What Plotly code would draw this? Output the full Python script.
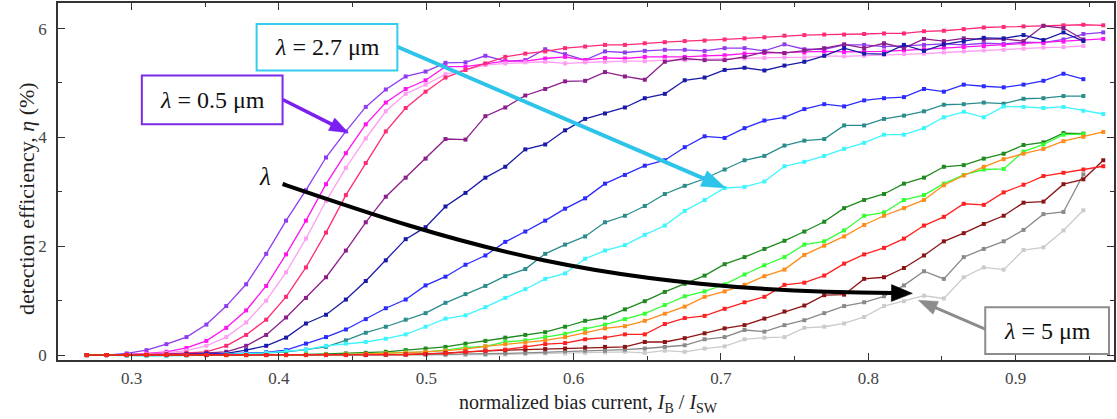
import math
import plotly.graph_objects as go

# normalized bias current I_B / I_SW (shared measurement grid)
bias = [0.2695, 0.2830, 0.2966, 0.3101, 0.3236, 0.3372, 0.3507, 0.3642, 0.3777, 0.3913,
        0.4048, 0.4183, 0.4319, 0.4454, 0.4589, 0.4725, 0.4860, 0.4995, 0.5130, 0.5266,
        0.5401, 0.5536, 0.5672, 0.5807, 0.5942, 0.6078, 0.6213, 0.6348, 0.6483, 0.6619,
        0.6754, 0.6889, 0.7025, 0.7160, 0.7295, 0.7431, 0.7566, 0.7701, 0.7836, 0.7972,
        0.8107, 0.8242, 0.8378, 0.8513, 0.8648, 0.8784, 0.8919, 0.9054, 0.9189, 0.9325,
        0.9460, 0.9595]

# detection efficiency (%) for each wavelength, from 0.5 um (violet) to 5 um (light gray)
eta_violet = [0.0, 0.0, 0.03, 0.09, 0.2, 0.33, 0.56, 0.9, 1.30, 1.86, 2.47, 3.03, 3.63, 4.11, 4.56,
              4.88, 5.12, 5.21, 5.37, 5.38, 5.5, 5.4, 5.42, 5.62, 5.53, 5.42, 5.58, 5.56, 5.59, 5.61,
              5.61, 5.59, 5.64, 5.64, 5.59, 5.71, 5.62, 5.62, 5.70, 5.70, 5.67, 5.68, 5.70, 5.72,
              5.70, 5.73, 5.72, 5.75, 5.74, 5.80, 5.90, 5.93]
eta_magenta = [0.0, 0.0, 0.01, 0.03, 0.06, 0.13, 0.26, 0.5, 0.82, 1.27, 1.85, 2.47, 3.14, 3.71, 4.24,
               4.64, 4.89, 5.05, 5.30, 5.30, 5.35, 5.4, 5.4, 5.45, 5.48, 5.42, 5.46, 5.45, 5.48, 5.48,
               5.48, 5.5, 5.51, 5.54, 5.55, 5.55, 5.56, 5.58, 5.57, 5.57, 5.58, 5.60, 5.62, 5.65,
               5.66, 5.68, 5.70, 5.72, 5.74, 5.76, 5.79, 5.81]
eta_pink = [0.0, 0.0, 0.0, 0.02, 0.04, 0.08, 0.17, 0.33, 0.6, 1.0, 1.52, 2.14, 2.83, 3.44, 3.98,
            4.48, 4.8, 4.97, 5.16, 5.24, 5.33, 5.36, 5.38, 5.39, 5.36, 5.38, 5.39, 5.40, 5.40, 5.42,
            5.42, 5.44, 5.45, 5.45, 5.46, 5.47, 5.47, 5.50, 5.49, 5.50, 5.52, 5.53, 5.54, 5.56,
            5.58, 5.60, 5.61, 5.63, 5.65, 5.66, 5.68]
eta_crimson = [0.0, 0.0, 0.0, 0.01, 0.02, 0.04, 0.06, 0.17, 0.37, 0.65, 1.07, 1.61, 2.25, 2.94, 3.53,
               4.11, 4.54, 4.84, 5.1, 5.24, 5.36, 5.48, 5.54, 5.58, 5.64, 5.67, 5.7, 5.7, 5.73, 5.75,
               5.77, 5.78, 5.8, 5.82, 5.84, 5.87, 5.88, 5.89, 5.89, 5.9, 5.91, 5.91, 5.95, 5.96,
               5.99, 6.02, 6.03, 6.04, 6.05, 6.06, 6.07, 6.06]
eta_purple = [0.0, 0.0, 0.0, 0.0, 0.01, 0.02, 0.04, 0.06, 0.17, 0.37, 0.69, 1.05, 1.43, 1.92, 2.44,
              2.91, 3.26, 3.61, 3.97, 3.96, 4.39, 4.55, 4.77, 4.89, 5.03, 5.04, 5.2, 5.12, 5.06, 5.39,
              5.45, 5.42, 5.42, 5.48, 5.57, 5.55, 5.6, 5.64, 5.71, 5.64, 5.73, 5.64, 5.81, 5.77,
              5.82, 5.8, 5.81, 5.77, 6.05, 6.01, 5.8]
eta_navy = [0.0, 0.0, 0.0, 0.0, 0.0, 0.01, 0.02, 0.03, 0.09, 0.17, 0.32, 0.58, 0.74, 1.02, 1.36,
            1.74, 2.13, 2.35, 2.73, 2.98, 3.26, 3.46, 3.78, 3.87, 4.13, 4.34, 4.44, 4.55, 4.72, 4.8,
            5.05, 5.1, 5.24, 5.28, 5.23, 5.32, 5.39, 5.5, 5.64, 5.54, 5.53, 5.7, 5.59, 5.71,
            5.77, 5.83, 5.82, 5.88, 5.79, 5.93, 5.77]
eta_blue = [0.0, 0.0, 0.0, 0.0, 0.0, 0.0, 0.01, 0.02, 0.03, 0.05, 0.09, 0.21, 0.33, 0.47, 0.66,
            0.86, 1.02, 1.28, 1.44, 1.66, 1.83, 2.08, 2.27, 2.47, 2.69, 2.88, 3.15, 3.31, 3.48, 3.58,
            3.82, 4.02, 3.99, 4.17, 4.31, 4.37, 4.52, 4.61, 4.57, 4.68, 4.72, 4.74, 4.89, 4.84,
            4.97, 4.94, 4.92, 4.97, 5.04, 5.17, 5.07]
eta_teal = [0.0, 0.0, 0.0, 0.0, 0.0, 0.0, 0.0, 0.01, 0.02, 0.04, 0.06, 0.1, 0.15, 0.27, 0.41,
            0.52, 0.65, 0.77, 0.96, 1.12, 1.27, 1.45, 1.58, 1.86, 2.03, 2.18, 2.44, 2.56, 2.74, 2.96,
            3.11, 3.24, 3.41, 3.58, 3.66, 3.85, 3.94, 3.97, 4.22, 4.22, 4.34, 4.4, 4.48, 4.6,
            4.61, 4.64, 4.62, 4.71, 4.72, 4.76, 4.76]
eta_cyan = [0.0, 0.0, -0.01, -0.02, -0.02, -0.01, 0.0, 0.01, 0.02, 0.04, 0.07, 0.1, 0.17, 0.21, 0.24,
            0.3, 0.38, 0.52, 0.67, 0.73, 0.88, 1.05, 1.21, 1.4, 1.5, 1.77, 1.92, 2.02, 2.21, 2.38,
            2.65, 2.85, 3.07, 3.09, 3.19, 3.47, 3.55, 3.66, 3.79, 3.9, 4.05, 4.05, 4.17, 4.37,
            4.47, 4.37, 4.57, 4.56, 4.54, 4.56, 4.49, 4.43]
eta_dgreen = [0.0, 0.0, 0.0, 0.0, 0.0, 0.0, 0.0, 0.0, 0.0, 0.0, 0.01, 0.01, 0.02, 0.03, 0.04,
              0.06, 0.09, 0.12, 0.15, 0.21, 0.26, 0.32, 0.37, 0.42, 0.52, 0.63, 0.69, 0.84, 0.99, 1.16,
              1.31, 1.46, 1.67, 1.8, 1.95, 2.1, 2.27, 2.45, 2.7, 2.85, 2.96, 3.15, 3.26, 3.46,
              3.49, 3.61, 3.7, 3.86, 3.91, 4.08, 4.07]
eta_lime = [0.0, 0.0, 0.0, 0.0, 0.0, 0.0, 0.0, 0.0, 0.0, 0.0, 0.0, 0.01, 0.01, 0.01, 0.02,
            0.03, 0.05, 0.06, 0.09, 0.14, 0.16, 0.24, 0.27, 0.33, 0.39, 0.48, 0.56, 0.66, 0.76, 0.92,
            1.08, 1.17, 1.3, 1.48, 1.65, 1.8, 2.03, 2.09, 2.29, 2.56, 2.62, 2.85, 2.94, 3.15,
            3.31, 3.41, 3.42, 3.74, 3.87, 4.05, 4.06]
eta_orange = [0.0, 0.0, 0.0, 0.0, 0.0, 0.0, 0.0, 0.0, 0.0, 0.0, 0.0, 0.0, 0.01, 0.01, 0.02,
              0.03, 0.04, 0.06, 0.08, 0.11, 0.16, 0.2, 0.23, 0.27, 0.33, 0.41, 0.49, 0.53, 0.63, 0.76,
              0.89, 1.07, 1.17, 1.29, 1.45, 1.57, 1.84, 2.01, 2.18, 2.39, 2.56, 2.7, 2.85, 3.12,
              3.3, 3.46, 3.6, 3.7, 3.79, 3.93, 4.01, 4.1]
eta_red = [0.0, 0.0, 0.0, 0.0, 0.0, 0.0, 0.0, 0.0, 0.0, 0.0, 0.0, 0.0, 0.0, 0.0, 0.01,
           0.01, 0.01, 0.02, 0.03, 0.06, 0.08, 0.1, 0.15, 0.2, 0.22, 0.29, 0.32, 0.38, 0.38, 0.57,
           0.68, 0.72, 0.85, 0.97, 1.07, 1.29, 1.33, 1.46, 1.68, 1.85, 1.97, 2.14, 2.38, 2.54,
           2.78, 2.76, 2.99, 3.13, 3.29, 3.35, 3.41, 3.47]
eta_dred = [0.0, 0.0, 0.0, 0.0, 0.0, 0.0, 0.0, 0.0, 0.0, 0.0, 0.0, 0.0, 0.0, 0.0, 0.0,
            0.01, 0.01, 0.02, 0.04, 0.06, 0.08, 0.09, 0.1, 0.11, 0.12, 0.14, 0.15, 0.15, 0.24, 0.24,
            0.31, 0.4, 0.49, 0.55, 0.67, 0.8, 0.91, 1.1, 1.11, 1.4, 1.43, 1.6, 1.83, 2.09,
            2.24, 2.41, 2.56, 2.8, 2.82, 3.14, 3.23, 3.58]
eta_gray = [0.0, 0.0, 0.0, 0.0, 0.0, 0.0, 0.0, 0.0, 0.0, 0.0, 0.0, 0.0, 0.0, 0.0, 0.0,
            0.0, 0.01, 0.01, 0.01, 0.02, 0.02, 0.03, 0.04, 0.05, 0.07, 0.08, 0.08, 0.1, 0.12, 0.15,
            0.18, 0.29, 0.33, 0.46, 0.43, 0.55, 0.64, 0.77, 0.9, 0.97, 1.08, 1.28, 1.54, 1.4,
            1.8, 1.95, 2.09, 2.3, 2.59, 2.63, 3.32]
eta_lgray = [0.0, 0.0, 0.0, 0.0, 0.0, 0.0, 0.0, 0.0, 0.0, 0.0, 0.0, 0.0, 0.0, 0.0, 0.0,
             0.0, 0.0, 0.0, 0.0, 0.0, 0.0, 0.01, 0.02, 0.03, 0.03, 0.04, 0.05, 0.06, 0.04, 0.08,
             0.06, 0.12, 0.16, 0.29, 0.32, 0.33, 0.5, 0.52, 0.58, 0.7, 0.9, 0.99, 1.09, 1.04,
             1.43, 1.61, 1.57, 1.93, 1.98, 2.29, 2.66]

series = [
    (eta_lgray, '#CBCBCB'),
    (eta_gray, '#8A8A8A'),
    (eta_violet, '#8F3CF0'),
    (eta_magenta, '#FF14F0'),
    (eta_pink, '#FF9EF2'),
    (eta_crimson, '#FF2A78'),
    (eta_purple, '#8B1E8B'),
    (eta_navy, '#1A1AA8'),
    (eta_blue, '#2B2BFF'),
    (eta_teal, '#2A8C8C'),
    (eta_cyan, '#3CF5FF'),
    (eta_dgreen, '#1F8A1F'),
    (eta_lime, '#33FF33'),
    (eta_orange, '#FF8C1A'),
    (eta_dred, '#8B1414'),
    (eta_red, '#FF2020'),
]

X_RANGE = [0.25, 0.9668]
Y_RANGE = [-0.091, 6.47]
M_L, M_R, M_T, M_B = 58, 1, 1, 59
W, H = 1117, 419
PW, PH = W - M_L - M_R, H - M_T - M_B


def to_x(px):
    return X_RANGE[0] + (px - M_L) / PW * (X_RANGE[1] - X_RANGE[0])


def to_y(py):
    return Y_RANGE[0] + (H - M_B - py) / PH * (Y_RANGE[1] - Y_RANGE[0])


def px_paper(px):
    return (px - M_L) / PW


def py_paper(py):
    return (H - M_B - py) / PH


fig = go.Figure()
for vals, col in series:
    fig.add_trace(go.Scatter(
        x=bias[:len(vals)], y=vals, mode='lines+markers',
        line=dict(color=col, width=1.3),
        marker=dict(symbol='square', size=4, color=col),
        showlegend=False, hoverinfo='skip'))

SERIF = 'Liberation Serif'


def arrow(tail, tip, color, width, head_len, head_w, shaft=True):
    (x0, y0), (x1, y1) = tail, tip
    d = math.hypot(x1 - x0, y1 - y0)
    ux, uy = (x1 - x0) / d, (y1 - y0) / d
    bx, by = x1 - head_len * ux, y1 - head_len * uy
    nx, ny = -uy, ux
    if shaft:
        fig.add_shape(type='line', xref='x', yref='y',
                      x0=to_x(x0), y0=to_y(y0), x1=to_x(bx + ux), y1=to_y(by + uy),
                      line=dict(color=color, width=width))
    pts = [(x1, y1), (bx + nx * head_w / 2, by + ny * head_w / 2),
           (bx - nx * head_w / 2, by - ny * head_w / 2)]
    path = 'M ' + ' L '.join(f'{to_x(px):.5f},{to_y(py):.5f}' for px, py in pts) + ' Z'
    fig.add_shape(type='path', xref='x', yref='y', path=path,
                  fillcolor=color, line=dict(color=color, width=0.5))


# black curved "lambda" arrow (pixel geometry -> axis coordinates)
p0, c1, c2, p3 = (283, 183), (450, 240), (600, 292), (895, 292.5)
fig.add_shape(type='path', xref='x', yref='y',
              path=(f'M {to_x(p0[0]):.5f},{to_y(p0[1]):.5f} '
                    f'C {to_x(c1[0]):.5f},{to_y(c1[1]):.5f} '
                    f'{to_x(c2[0]):.5f},{to_y(c2[1]):.5f} '
                    f'{to_x(p3[0]):.5f},{to_y(p3[1]):.5f}'),
              line=dict(color='black', width=4))
arrow((880, 292.5), (914, 293), 'black', 4, 21, 17, shaft=False)

# straight arrows from the label boxes
arrow((398, 45), (727, 187), '#2EC4EA', 4, 24, 17)
arrow((283, 98), (349, 131.5), '#7A1FF0', 3.5, 19, 14)
arrow((987, 329), (920, 300), '#8C8C8C', 3, 19, 14)

HS = '\u200a'  # hair space so the text does not begin with a styled span

# label boxes (left, top, right, bottom in pixels) and their texts
boxes = [
    ((257, 22, 398, 69), '#33CCEE', HS + '<i>λ</i> = 2.7 μm'),
    ((142, 74, 283, 123), '#7B2BE8', HS + '<i>λ</i> = 0.5 μm'),
    ((987, 307, 1111, 354), '#8C8C8C', HS + '<i>λ</i> = 5 μm'),
]
annotations = []
for (l, t, r, b), col, txt in boxes:
    fig.add_shape(type='rect', xref='paper', yref='paper',
                  x0=px_paper(l), x1=px_paper(r), y0=py_paper(b), y1=py_paper(t),
                  fillcolor='white', line=dict(color=col, width=2), layer='above')
    annotations.append(dict(xref='paper', yref='paper', x=px_paper((l + r) / 2),
                            y=py_paper((t + b) / 2), text=txt, showarrow=False,
                            font=dict(family=SERIF, size=24, color='#111'),
                            xanchor='center', yanchor='middle'))

annotations += [
    dict(xref='paper', yref='paper', x=px_paper(265), y=py_paper(175), text='λ',
         showarrow=False, font=dict(family=SERIF, size=25, color='#111', style='italic'),
         xanchor='center', yanchor='middle'),
    dict(xref='paper', yref='paper', x=px_paper(590), y=py_paper(404),
         text='normalized bias current, <i>I</i><sub>B</sub> / <i>I</i><sub>SW</sub>',
         showarrow=False, font=dict(family=SERIF, size=20, color='#222'),
         xanchor='center', yanchor='middle'),
    dict(xref='paper', yref='paper', x=px_paper(27), y=py_paper(198), textangle=-90,
         text='detection efficiency, <i>η</i> (%)',
         showarrow=False, font=dict(family=SERIF, size=22, color='#222'),
         xanchor='center', yanchor='middle'),
]

axis_common = dict(
    showline=True, linecolor='#333', linewidth=1.5, mirror='allticks',
    ticks='inside', ticklen=7, tickwidth=1.2, tickcolor='#333',
    showgrid=False, zeroline=False,
    tickfont=dict(family=SERIF, size=17, color='#444'),
)

fig.update_layout(
    width=W, height=H,
    margin=dict(l=M_L, r=M_R, t=M_T, b=M_B),
    plot_bgcolor='white', paper_bgcolor='white',
    annotations=annotations,
    xaxis=dict(range=X_RANGE, tickvals=[0.3, 0.4, 0.5, 0.6, 0.7, 0.8, 0.9],
               ticktext=['0.3', '0.4', '0.5', '0.6', '0.7', '0.8', '0.9'],
               minor=dict(tickvals=[0.25, 0.35, 0.45, 0.55, 0.65, 0.75, 0.85, 0.95],
                          ticks='inside', ticklen=4, tickcolor='#333'),
               ticklabelstandoff=2, **axis_common),
    yaxis=dict(range=Y_RANGE, tickvals=[0, 2, 4, 6], ticktext=['0', '2', '4', '6'],
               minor=dict(tickvals=[1, 3, 5], ticks='inside', ticklen=4, tickcolor='#333'),
               ticklabelstandoff=6, **axis_common),
)

fig.write_html('out.html')
